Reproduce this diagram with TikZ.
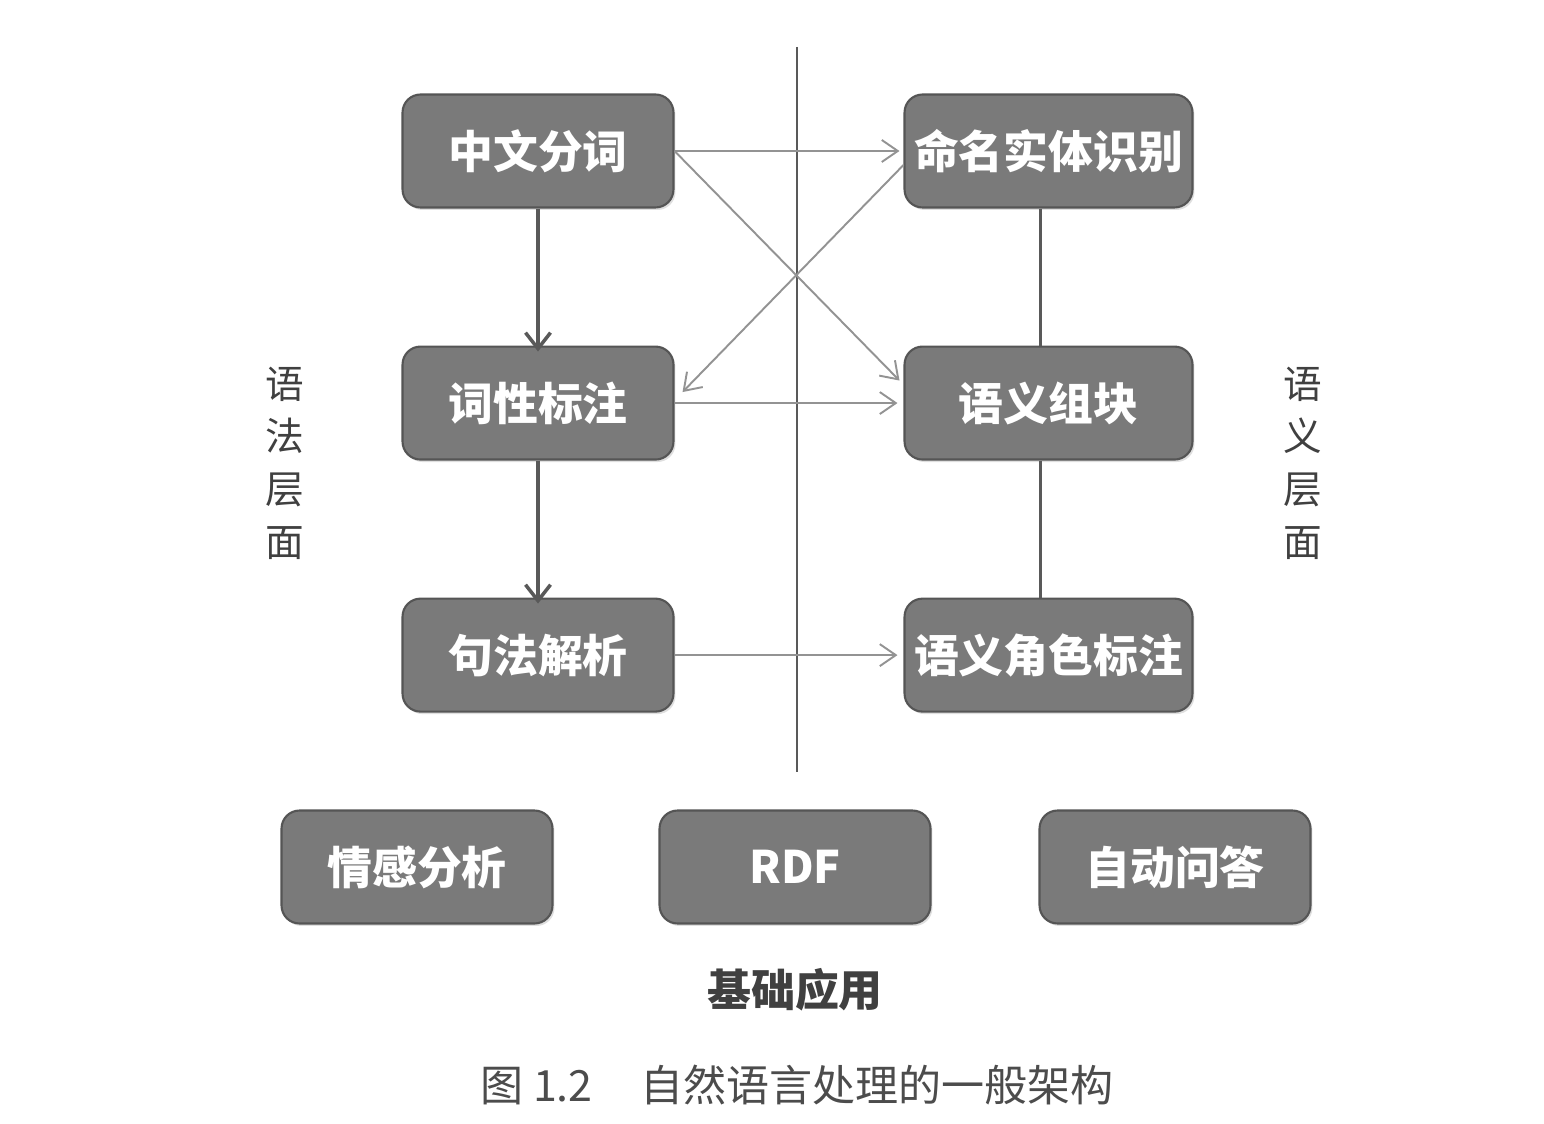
\documentclass[tikz,border=0pt]{standalone}
\usepackage{fontspec}
\setmainfont{Noto Sans CJK SC}
\usetikzlibrary{arrows.meta, positioning, shadows}

\begin{document}
\begin{tikzpicture}[x=0.02cm, y=-0.02cm,
box/.style={rectangle, draw={rgb,255:red,85;green,85;blue,85}, line width=1.2pt, fill={rgb,255:red,122;green,122;blue,122}, rounded corners=0.36cm, align=center, text=white, font=\fontsize{25.5}{30}\selectfont\bfseries, minimum width=5.42cm, minimum height=2.26cm, drop shadow={opacity=0.25, shadow xshift=0.04cm, shadow yshift=-0.05cm}},
wide/.style={minimum width=5.76cm},
arrow/.style={-{Straight Barb[length=3.2mm, width=4.4mm]}, line width=1.1pt, color=gray!85},
down/.style={-{Straight Barb[length=3.2mm, width=5mm]}, line width=2pt, color=black!65},
link/.style={line width=2pt, color=black!65},
side/.style={align=center, font=\fontsize{22}{30}\selectfont, text=black!75}
]
\useasboundingbox (0,0) rectangle (1544,1124);

\node[box] (seg) at (538,151) {中文分词};
\node[box, below=2.74cm of seg] (pos) {词性标注};
\node[box, below=2.74cm of pos] (parse) {句法解析};
\node[box, wide, right=4.58cm of seg] (ner) {命名实体识别};
\node[box, wide, right=4.58cm of pos] (chunk) {语义组块};
\node[box, wide, right=4.58cm of parse] (srl) {语义角色标注};

\node[box] (senti) at (417,867) {情感分析};
\node[box] (rdf) at (795,867) {RDF};
\node[box] (qa) at (1175,867) {自动问答};

\coordinate (top) at (797,47);
\coordinate (bot) at (797,772);
\draw[line width=1.6pt, color=black!65] (top) -- (bot);

\draw[down] (seg.south) -- ([yshift=-0.12cm]pos.north);
\draw[down] (pos.south) -- ([yshift=-0.12cm]parse.north);
\draw[link] ([xshift=-0.16cm]ner.south) -- ([xshift=-0.16cm]chunk.north);
\draw[link] ([xshift=-0.16cm]chunk.south) -- ([xshift=-0.16cm]srl.north);

\draw[arrow] (seg.east) -- ([xshift=-0.08cm]ner.west);
\draw[arrow] (seg.east) -- ([xshift=-0.08cm, yshift=0.45cm]chunk.west);
\draw[arrow] ([yshift=-0.28cm]ner.west) -- ([xshift=0.16cm, yshift=0.22cm]pos.east);
\draw[arrow] (pos.east) -- ([xshift=-0.12cm]chunk.west);
\draw[arrow] (parse.east) -- ([xshift=-0.12cm]srl.west);

\node[side] (syn) at (285,463) {语\\法\\层\\面};
\node[side] (sem) at (1303,463) {语\\义\\层\\面};
\node[font=\fontsize{25}{30}\selectfont\bfseries, text=black!75] (app) at (795,990) {基础应用};
\node[font=\fontsize{24.5}{30}\selectfont, text=black!70] (cap) at (797,1085) {图 1.2\hspace{1.1em}自然语言处理的一般架构};
\end{tikzpicture}
\end{document}
